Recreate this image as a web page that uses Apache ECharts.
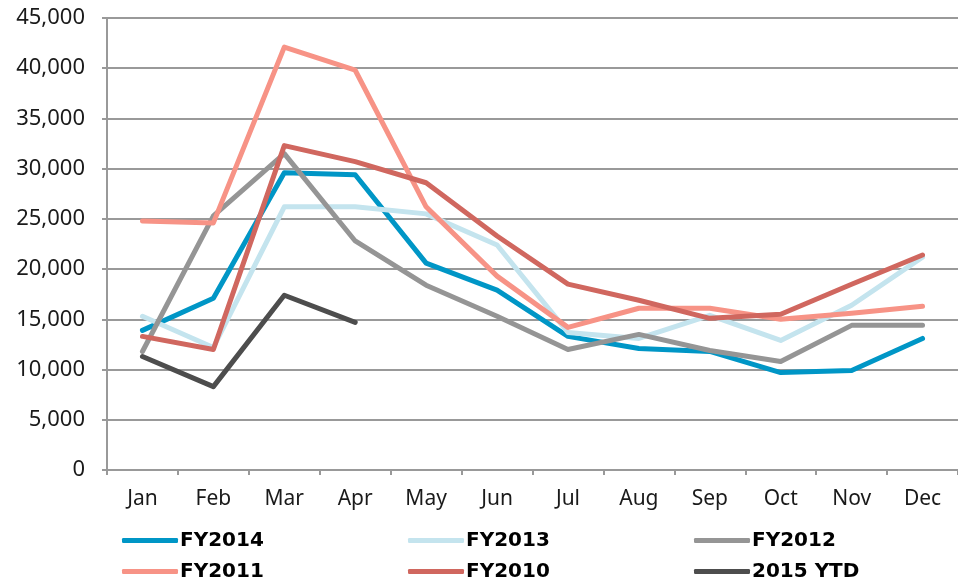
<!DOCTYPE html>
<html>
<head>
    <meta charset="UTF-8">
    <title></title>
    <style>
        html, body { margin: 0; padding: 0; background: #fff; }
        #chart { width: 958px; height: 583px; }
    </style>
</head>
<body>
    <div id="chart"></div>
    <script src="https://cdn.jsdelivr.net/npm/echarts@6/dist/echarts.min.js"></script>
    <script type="text/javascript">
        var months = ['Jan', 'Feb', 'Mar', 'Apr', 'May', 'Jun', 'Jul', 'Aug', 'Sep', 'Oct', 'Nov', 'Dec'];
        var fy2014 = [13900, 17100, 29600, 29400, 20600, 17900, 13300, 12100, 11800, 9700, 9900, 13100];
        var fy2013 = [15300, 12200, 26200, 26200, 25500, 22400, 13700, 13100, 15400, 12900, 16400, 21200];
        var fy2012 = [11800, 25300, 31500, 22800, 18400, 15300, 12000, 13500, 11900, 10800, 14400, 14400];
        var fy2011 = [24800, 24600, 42100, 39800, 26200, 19300, 14200, 16100, 16100, 15000, 15600, 16300];
        var fy2010 = [13300, 12000, 32300, 30700, 28600, 23300, 18500, 16900, 15100, 15500, 18500, 21400];
        var ytd2015 = [11300, 8300, 17400, 14700];

        var names = ['FY2014', 'FY2013', 'FY2012', 'FY2011', 'FY2010', '2015 YTD'];
        var colors = ['#0096c6', '#c4e4ee', '#959595', '#f79386', '#d0675f', '#4d4d4d'];
        var values = [fy2014, fy2013, fy2012, fy2011, fy2010, ytd2015];

        var chart = echarts.init(document.getElementById('chart'));

        var series = [];
        for (var i = 0; i < names.length; i++) {
            series.push({
                name: names[i],
                type: 'line',
                symbol: 'none',
                data: values[i],
                lineStyle: { width: 5, color: colors[i], cap: 'round', join: 'round' },
                itemStyle: { color: colors[i] }
            });
        }

        var option = {
            animation: false,
            color: colors,
            grid: { left: 107, top: 18, width: 858, height: 452 },
            legend: {
                data: names,
                left: 122,
                top: 525,
                width: 880,
                padding: 0,
                orient: 'horizontal',
                icon: 'roundRect',
                itemWidth: 56,
                itemHeight: 5,
                itemGap: 0,
                textStyle: {
                    fontFamily: 'DejaVu Sans',
                    fontWeight: 'bold',
                    fontSize: 20,
                    color: '#000',
                    width: 228,
                    lineHeight: 31,
                    padding: [0, 0, 0, -3]
                }
            },
            xAxis: {
                type: 'category',
                data: months,
                boundaryGap: true,
                axisLine: { lineStyle: { color: '#999', width: 2 } },
                axisTick: { show: true, length: 5, alignWithLabel: false, lineStyle: { color: '#999', width: 2 } },
                axisLabel: { fontFamily: 'Noto Sans', fontSize: 21, color: '#1a1a1a', margin: 19 },
                splitLine: { show: false }
            },
            yAxis: {
                type: 'value',
                min: 0,
                max: 45000,
                interval: 5000,
                axisLine: { show: true, lineStyle: { color: '#999', width: 2 } },
                axisTick: { show: true, length: 5, lineStyle: { color: '#999', width: 2 } },
                axisLabel: {
                    fontFamily: 'Noto Sans',
                    fontSize: 22,
                    color: '#1a1a1a',
                    margin: 22,
                    formatter: function (v) { return v.toLocaleString('en-US'); }
                },
                splitLine: { lineStyle: { color: '#999', width: 2 } }
            },
            series: series
        };
        chart.setOption(option);
    </script>
</body>
</html>
